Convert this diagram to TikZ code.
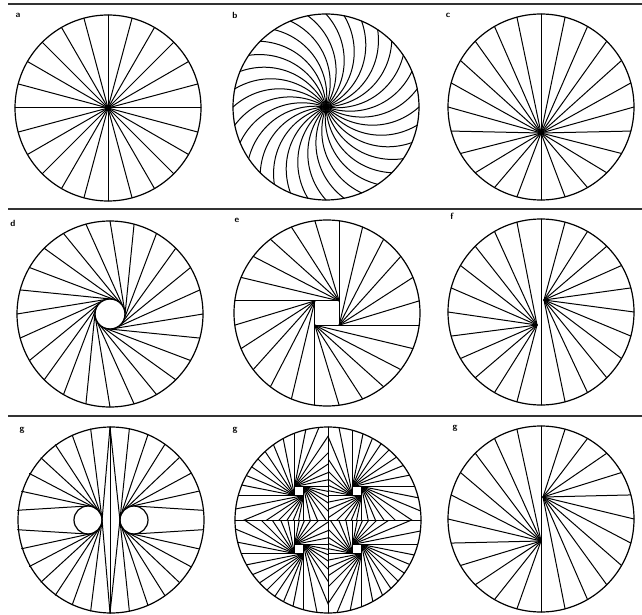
\documentclass[tikz,border=0pt]{standalone}
\usetikzlibrary{positioning}
\tikzset{
  bordo/.style={line width=1.2pt},
  raggio/.style={line width=1pt,line cap=round},
  sep/.style={line width=1.6pt,black!80},
  lettera/.style={font=\sffamily\bfseries\small,inner sep=0pt}
}
\def\R{93}
\def\rc{14}
%punto di tangenza dal punto (#1,#2) al cerchietto di centro (#3,0), verso #4
\newcommand{\tocca}[4]{%
  \pgfmathsetmacro\gdx{#1-(#3)}%
  \pgfmathsetmacro\gdy{#2}%
  \pgfmathsetmacro\gpsi{atan2(\gdy,\gdx)}%
  \pgfmathsetmacro\gacs{acos(\rc/veclen(\gdx,\gdy))}%
  \pgfmathsetmacro\gtan{\gpsi+(#4)*\gacs}%
  \pgfmathsetmacro\gtx{#3+\rc*cos(\gtan)}%
  \pgfmathsetmacro\gty{\rc*sin(\gtan)}%
}
\begin{document}
\begin{tikzpicture}[x=1pt,y=1pt]
\useasboundingbox (0,0) rectangle (642,614);
%separatori
\draw[sep] (8,610)--(642,610);
\draw[sep] (8,405)--(642,405);
\draw[sep] (8,198)--(642,198);
%lettere
\node[lettera] (la) at (18,599) {a};
\node[lettera] (lb) at (235,599) {b};
\node[lettera] (lc) at (448,599) {c};
\node[lettera] (ld) at (13,391) {d};
\node[lettera] (le) at (237,394) {e};
\node[lettera] (lf) at (452,398) {f};
\node[lettera] (lg) at (22,184) {g};
\node[lettera] (lh) at (235,184) {g};
\node[lettera] (li) at (455,186) {g};

%a
\begin{scope}[shift={(108,506)}]
  \draw[bordo] (0,0) circle (\R);
  \foreach \t in {0,15,...,345} \draw[raggio] (0,0)--(\t:\R);
\end{scope}

%b
\begin{scope}[shift={(326,507)}]
  \draw[bordo] (0,0) circle (\R);
  \foreach \k in {0,...,31} \draw[raggio] (0,0) to[bend right=42] ({\k*11.25}:\R);
\end{scope}

%c
\begin{scope}[shift={(541,507)}]
  \draw[bordo] (0,0) circle (\R);
  \foreach \t in {0,15,...,345} \draw[raggio] (0,-26)--(\t:\R);
\end{scope}

%d
\begin{scope}[shift={(110,300)}]
  \draw[bordo] (0,0) circle (\R);
  \draw[bordo] (0,0) circle (15);
  \pgfmathsetmacro\tg{acos(15/\R)}
  \foreach \t in {0,15,...,345} \draw[raggio] (\t:\R)--({\t-\tg}:15);
\end{scope}

%e
\begin{scope}[shift={(327,301)}]
  \draw[bordo] (0,0) circle (\R);
  \pgfmathsetmacro\s{\R*sin(7.5)}
  \draw[raggio] (-\s,-\s) rectangle (\s,\s);
  \foreach \k/\cx/\cy in {0/1/1,1/-1/1,2/-1/-1,3/1/-1}
    \foreach \j in {0,...,5}
      \draw[raggio] (\cx*\s,\cy*\s)--({82.5+90*\k+15*\j}:\R);
\end{scope}

%f
\begin{scope}[shift={(541,302)}]
  \draw[bordo] (0,0) circle (\R);
  \draw[raggio] (0,\R)--(0,-\R);
  \foreach \t in {-75,-60,...,75} \draw[raggio] (3,12)--(\t:\R);
  \foreach \t in {105,120,...,255} \draw[raggio] (-4,-13)--(\t:\R);
\end{scope}

%g con due cerchietti
\begin{scope}[shift={(110,94)}]
  \draw[bordo] (1,0) circle (\R);
  \draw[raggio] (0,\R)--(0,-\R);
  \draw[bordo] (-22,0) circle (\rc) (24,0) circle (\rc);
  \foreach \lato/\cc/\ta in {-1/-22/90,1/24/-90} {
    \foreach \k in {0,...,15} {
      \pgfmathsetmacro\t{\ta+12*\k}
      \pgfmathsetmacro\ax{\R*cos(\t)}
      \pgfmathsetmacro\ay{\R*sin(\t)}
      \pgfmathsetmacro\sg{\lato*(\ay<0 ? -1 : 1)}
      \tocca{\ax}{\ay}{\cc}{\sg}
      \draw[raggio] (\ax,\ay)--(\gtx,\gty);
    }
  }
\end{scope}

%g con quattro quadrati
\begin{scope}[shift={(328,94)}]
  \draw[bordo] (0,0) circle (\R);
  \draw[raggio] (0,\R)--(0,-\R) (-\R,0)--(\R,0);
  \foreach \qx/\qy in {-1/1,1/1,-1/-1,1/-1} {
    \begin{scope}
      \clip (0,0) circle (\R);
      \clip (0,0) rectangle (\qx*\R,\qy*\R);
      \begin{scope}[shift={(\qx*29,\qy*29)}]
        \draw[raggio] (-4.5,-4.5) rectangle (4.5,4.5);
        \foreach \cx/\cy/\a in {-1/1/90,1/1/0,1/-1/-90,-1/-1/180}
          \foreach \j in {0,...,7}
            \draw[raggio] (\cx*4.5,\cy*4.5)--++({\a-11.25*\j}:200);
      \end{scope}
    \end{scope}
  }
\end{scope}

%g con diametro
\begin{scope}[shift={(541,95)}]
  \draw[bordo] (0,0) circle (\R);
  \draw[raggio] (0,\R)--(0,-\R);
  \foreach \t in {-75,-60,...,75} \draw[raggio] (2,22)--(\t:\R);
  \foreach \t in {105,120,...,255} \draw[raggio] (0,-22)--(\t:\R);
\end{scope}
\end{tikzpicture}
\end{document}
